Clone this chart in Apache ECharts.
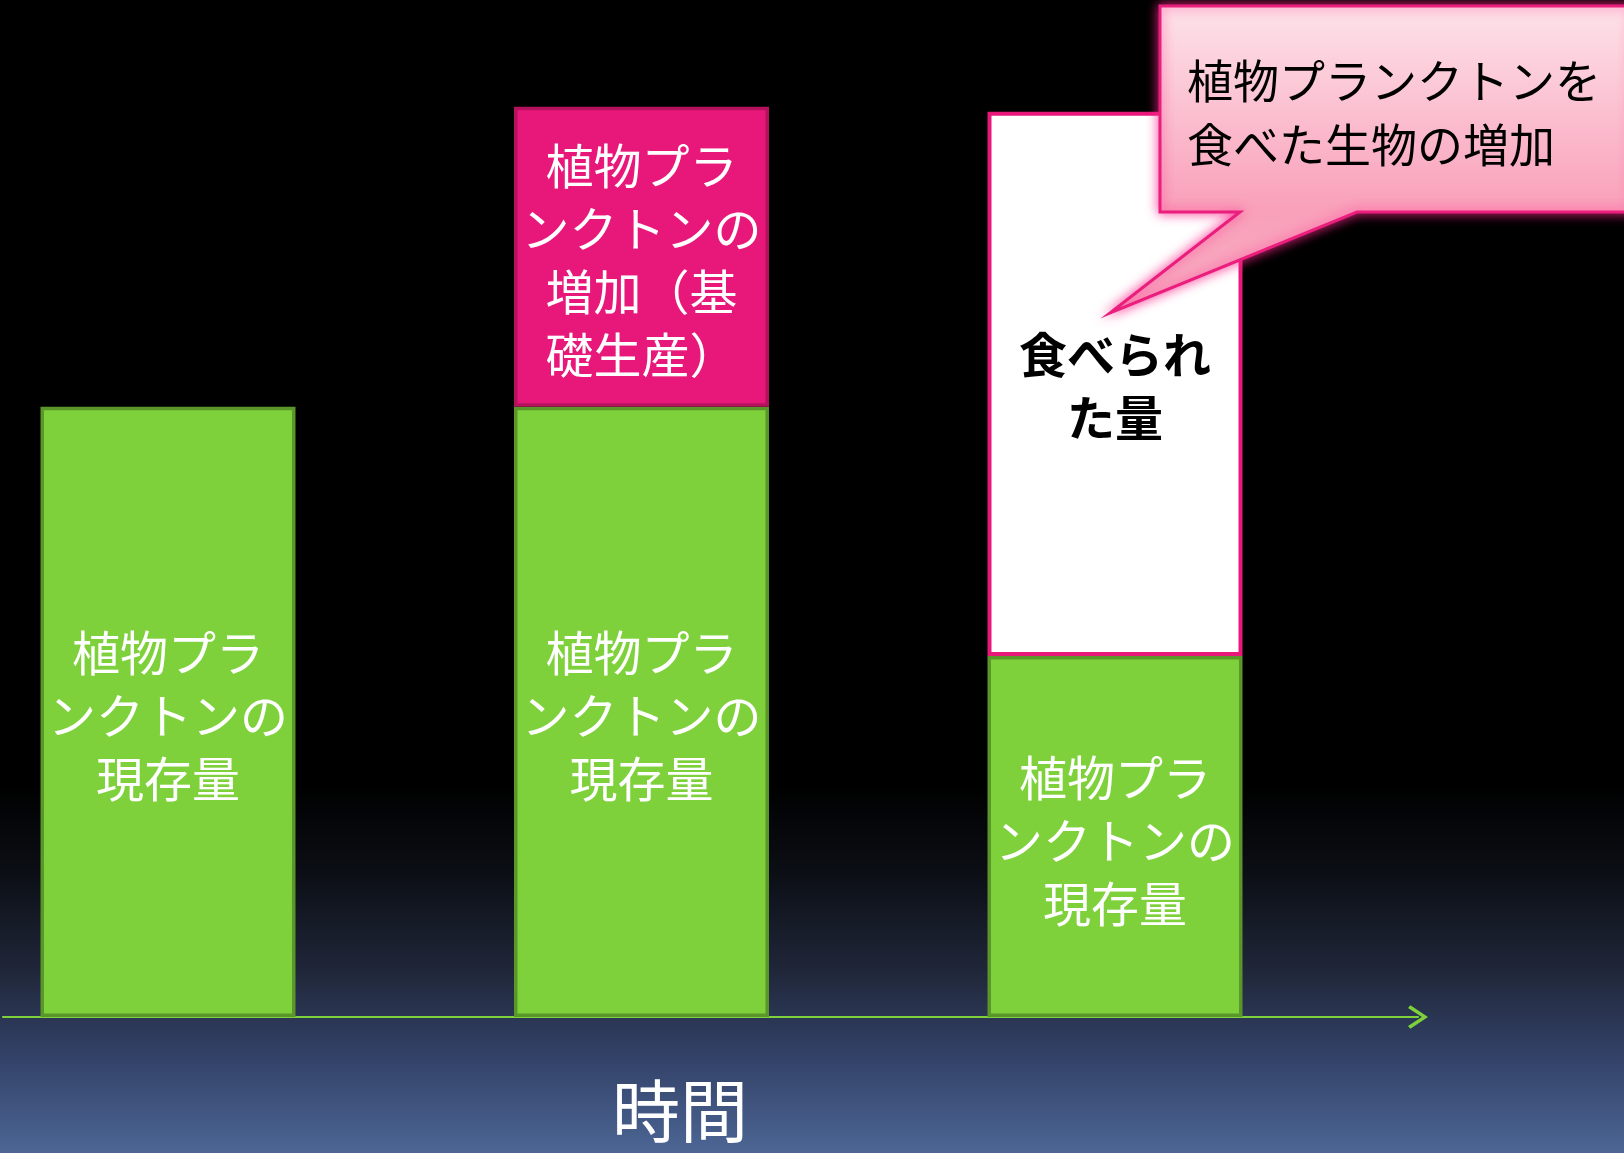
<!DOCTYPE html>
<html>
<head>
<meta charset="utf-8">
<title>植物プランクトンの現存量と生産</title>
<script src="https://cdn.jsdelivr.net/npm/echarts@6/dist/echarts.min.js"></script>
<style>
  html, body { margin: 0; padding: 0; background: #000; }
  #chart { width: 1624px; height: 1153px; }
</style>
</head>
<body>
<div id="chart"></div>
<script>
// Three moments in time, left to right
const timePoints = ['時点1', '時点2', '時点3'];
// Standing stock of phytoplankton at each moment
const standingStock = [60, 60, 35.5];
// Increase of phytoplankton (primary production)
const primaryProduction = [null, 29.5, null];
// Amount eaten by grazers
const grazedAmount = [null, null, 53.5];

const stockLabel = '植物プラ\nンクトンの\n現存量';
const productionLabel = '植物プラ\nンクトンの\n増加（基\n礎生産）';
const grazedLabel = '食べられ\nた量';
const calloutText = '植物プランクトンを\n食べた生物の増加';
const axisTitle = '時間';

const FONT = '"Noto Sans CJK JP", "Noto Sans CJK SC", sans-serif';
const GREEN = '#7ed13b';

const chart = echarts.init(document.getElementById('chart'), null, { renderer: 'canvas' });

const barLabel = (text, color, weight, dy) => ({
  show: true, position: 'inside', formatter: () => text,
  offset: [0, dy || 0],
  color: color, fontSize: 48, fontWeight: weight || 'normal',
  lineHeight: 63, fontFamily: FONT, align: 'center'
});

const option = {
  animation: false,
  backgroundColor: {
    type: 'linear', x: 0, y: 0, x2: 0, y2: 1,
    colorStops: [
      { offset: 0, color: '#000000' },
      { offset: 0.68, color: '#000000' },
      { offset: 0.76, color: '#0c0f16' },
      { offset: 0.84, color: '#1f2638' },
      { offset: 0.92, color: '#34436a' },
      { offset: 1, color: '#4c6694' }
    ]
  },
  title: {
    text: axisTitle,
    left: 680,
    top: 1073,
    textAlign: 'center',
    padding: 0,
    textStyle: { color: '#ffffff', fontSize: 68, fontWeight: 'normal', fontFamily: FONT, lineHeight: 76 }
  },
  grid: [
    // bars: time points sit on the ticks, first and last at the grid edges
    { left: 168, right: 509, top: 0, bottom: 136, containLabel: false },
    // time arrow
    { left: 3, right: 206, top: 0, bottom: 136, containLabel: false }
  ],
  xAxis: [
    {
      type: 'category', gridIndex: 0, data: timePoints, boundaryGap: false,
      axisLine: { show: false }, axisTick: { show: false }, axisLabel: { show: false },
      splitLine: { show: false }
    },
    {
      type: 'value', gridIndex: 1, min: 0, max: 1,
      splitLine: { show: false }, axisTick: { show: false }, axisLabel: { show: false },
      axisLine: {
        show: true,
        lineStyle: { color: GREEN, width: 2.2 },
        symbol: ['none', 'path://M10 0 L20 15 L17.6 17 L10 5.2 L2.4 17 L0 15 Z'],
        symbolSize: [24, 20]
      }
    }
  ],
  yAxis: [
    { type: 'value', gridIndex: 0, min: 0, max: 100, show: false },
    { type: 'value', gridIndex: 1, min: 0, max: 100, show: false }
  ],
  series: [
    {
      name: '現存量', type: 'bar', stack: 'total', xAxisIndex: 0, yAxisIndex: 0,
      barWidth: 255, clip: false,
      data: standingStock,
      itemStyle: { color: GREEN, borderColor: '#5a9629', borderWidth: 3.5 },
      label: barLabel(stockLabel, '#ffffff', 'normal', 4)
    },
    {
      name: '基礎生産', type: 'bar', stack: 'total', xAxisIndex: 0, yAxisIndex: 0,
      barWidth: 255, clip: false,
      data: primaryProduction,
      itemStyle: { color: '#e8187b', borderColor: '#b5125d', borderWidth: 3.5 },
      label: barLabel(productionLabel, '#ffffff', 'normal', 3)
    },
    {
      name: '食べられた量', type: 'bar', stack: 'total', xAxisIndex: 0, yAxisIndex: 0,
      barWidth: 255, clip: false,
      data: grazedAmount,
      itemStyle: { color: '#ffffff', borderColor: '#e8187b', borderWidth: 4 },
      label: barLabel(grazedLabel, '#000000', 'bold', 2)
    }
  ],
  graphic: [
    {
      type: 'polygon',
      z: 100,
      shape: {
        points: [
          [1160, 6], [1632, 6], [1632, 212], [1357, 212],
          [1110, 313], [1240, 212], [1160, 212]
        ]
      },
      style: {
        fill: {
          type: 'linear', x: 0, y: 0, x2: 0, y2: 1,
          colorStops: [
            { offset: 0, color: '#fde3e9' },
            { offset: 0.66, color: '#f9a0ba' },
            { offset: 1, color: '#f7adc2' }
          ]
        },
        stroke: '#ea1e7d',
        lineWidth: 3,
        lineJoin: 'miter',
        shadowBlur: 12,
        shadowColor: 'rgba(255, 40, 140, 0.85)'
      }
    },
    {
      type: 'text',
      z: 101,
      style: {
        x: 1187, y: 49,
        text: calloutText,
        fill: '#000000',
        fontSize: 46,
        lineHeight: 64,
        fontFamily: FONT,
        align: 'left',
        verticalAlign: 'top'
      }
    }
  ]
};

chart.setOption(option);
</script>
</body>
</html>
